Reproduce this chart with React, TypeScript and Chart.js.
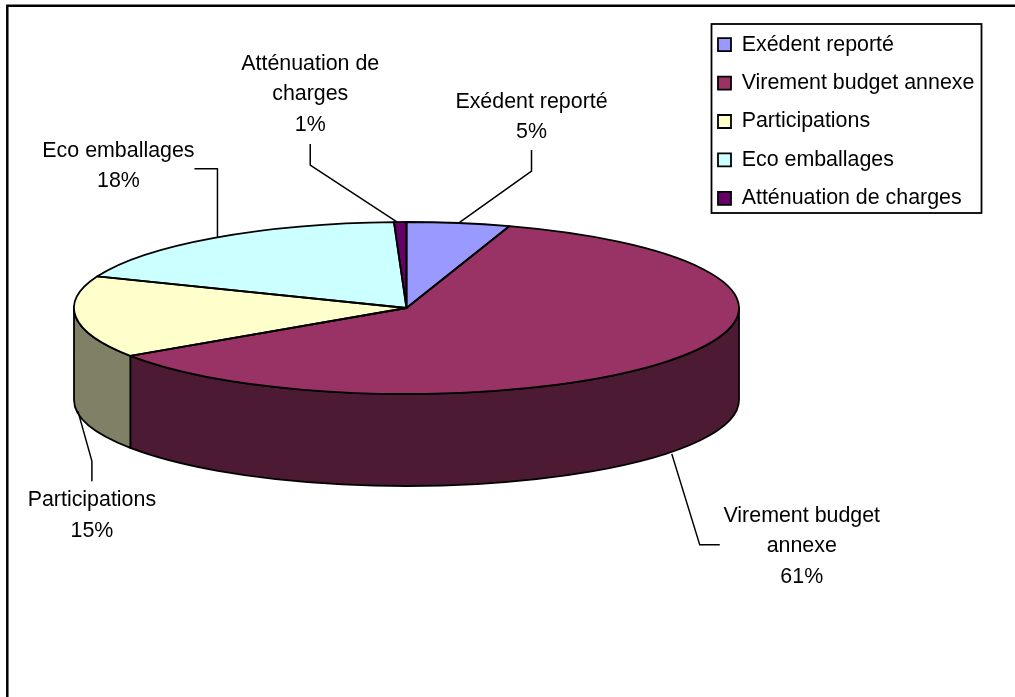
import React, { useEffect, useRef } from "react";
import { Chart, registerables } from "chart.js";

Chart.register(...registerables);

const categories = ["Exédent reporté", "Virement budget annexe", "Participations", "Eco emballages", "Atténuation de charges"];
const shares = [5, 60.6, 15.4, 18.4, 0.6];
const topColors = ["#9999FF", "#993366", "#FFFFCC", "#CCFFFF", "#660066"];
const sideColors = ["#4D4D80", "#4D1A33", "#808066", "#668080", "#330033"];
const labelLines = [["Exédent reporté"], ["Virement budget", "annexe"], ["Participations"], ["Eco emballages"], ["Atténuation de", "charges"]];

const FONT_SIZE = 21.4;
const FONT_FAMILY = '"Liberation Sans", Arial, sans-serif';
const CX = 406.5, CY = 308, RX = 332.5, RY = 86, DEPTH = 92;
const LINE_H = 30.5;

// Offsets of each callout relative to the point of the pie rim it leaves from.
const callouts = [
  { start: [0, 0], elbow: [73, -52], end: [73, -73], text: [73, -121] },
  { start: [0, 2], elbow: [28, 93], end: [48, 93], text: [130, 64] },
  { start: [2, 2], elbow: [16, 52], end: [16, 72], text: [16, 91] },
  { start: [3, 0], elbow: [3, -69], end: [-20, -69], text: [-96, -87] },
  { start: [-3, 0], elbow: [-90, -57], end: [-90, -78], text: [-90, -158] },
];

const pie3d = {
  id: "pie3d",
  beforeDraw(chart: any) {
    const { ctx, legend } = chart;
    legend.left = 701;
    legend.top = 17;
    ctx.save();
    ctx.strokeStyle = "#000";
    ctx.lineWidth = 2.5;
    ctx.beginPath();
    ctx.moveTo(7.3, 697);
    ctx.lineTo(7.3, 5.8);
    ctx.lineTo(1015, 5.8);
    ctx.stroke();
    ctx.lineWidth = 1.8;
    ctx.strokeRect(711.5, 24, 270, 189);
    ctx.restore();
  },
  beforeDatasetsDraw(chart: any) {
    const { ctx } = chart;
    const arcs = chart.getDatasetMeta(0).data;
    ctx.save();
    ctx.strokeStyle = "#000";
    ctx.lineWidth = 1.8;
    ctx.lineJoin = "round";
    arcs.forEach((arc: any, i: number) => {
      [0, 2 * Math.PI].forEach((base) => {
        const a0 = Math.max(arc.startAngle, base);
        const a1 = Math.min(arc.endAngle, base + Math.PI);
        if (a1 <= a0) return;
        ctx.beginPath();
        ctx.ellipse(CX, CY, RX, RY, 0, a0, a1);
        ctx.ellipse(CX, CY + DEPTH, RX, RY, 0, a1, a0, true);
        ctx.closePath();
        ctx.fillStyle = sideColors[i];
        ctx.fill();
        ctx.stroke();
      });
    });
    ctx.restore();
    const r = arcs[0].outerRadius;
    ctx.save();
    ctx.translate(CX, CY);
    ctx.scale(RX / r, RY / r);
    ctx.translate(-arcs[0].x, -arcs[0].y);
  },
  afterDatasetsDraw(chart: any) {
    const { ctx } = chart;
    ctx.restore();
    const arcs = chart.getDatasetMeta(0).data;
    ctx.save();
    ctx.strokeStyle = "#000";
    ctx.lineWidth = 1.8;
    ctx.lineJoin = "round";
    arcs.forEach((arc: any) => {
      ctx.beginPath();
      ctx.moveTo(CX, CY);
      ctx.ellipse(CX, CY, RX, RY, 0, arc.startAngle, arc.endAngle);
      ctx.closePath();
      ctx.stroke();
    });
    ctx.font = `${FONT_SIZE}px ${FONT_FAMILY}`;
    ctx.fillStyle = "#000";
    ctx.textAlign = "center";
    ctx.textBaseline = "middle";
    arcs.forEach((arc: any, i: number) => {
      const mid = (arc.startAngle + arc.endAngle) / 2;
      const sin = Math.sin(mid);
      const x = CX + RX * Math.cos(mid);
      const y = CY + RY * sin + (sin > 0 || Math.abs(sin) < 0.2 ? DEPTH : 0);
      const c = callouts[i];
      ctx.beginPath();
      ctx.moveTo(x + c.start[0], y + c.start[1]);
      ctx.lineTo(x + c.elbow[0], y + c.elbow[1]);
      ctx.lineTo(x + c.end[0], y + c.end[1]);
      ctx.lineWidth = 1.5;
      ctx.stroke();
      const lines = [...labelLines[i], `${Math.round(shares[i])}%`];
      lines.forEach((t, k) => ctx.fillText(t, x + c.text[0], y + c.text[1] + k * LINE_H));
    });
    ctx.restore();
  },
};

export default function App() {
  const ref = useRef<HTMLCanvasElement>(null);
  useEffect(() => {
    document.body.style.margin = "0";
    const chart = new Chart(ref.current!, {
      type: "pie",
      data: {
        labels: categories,
        datasets: [{ data: shares, backgroundColor: topColors, borderWidth: 0, clip: false } as any],
      },
      options: {
        animation: false,
        responsive: false,
        devicePixelRatio: 1,
        plugins: {
          tooltip: { enabled: false },
          legend: {
            position: "right",
            align: "start",
            labels: {
              boxWidth: 13,
              boxHeight: 13,
              padding: 17,
              color: "#000",
              font: { family: FONT_FAMILY, size: FONT_SIZE },
              generateLabels: () =>
                categories.map((text, i) => ({
                  text,
                  fillStyle: topColors[i],
                  strokeStyle: "#000",
                  lineWidth: 1.8,
                  hidden: false,
                  index: i,
                })),
            },
          },
        },
      },
      plugins: [pie3d],
    } as any);
    return () => chart.destroy();
  }, []);
  return <canvas ref={ref} width={1015} height={697} style={{ display: "block" }} />;
}
